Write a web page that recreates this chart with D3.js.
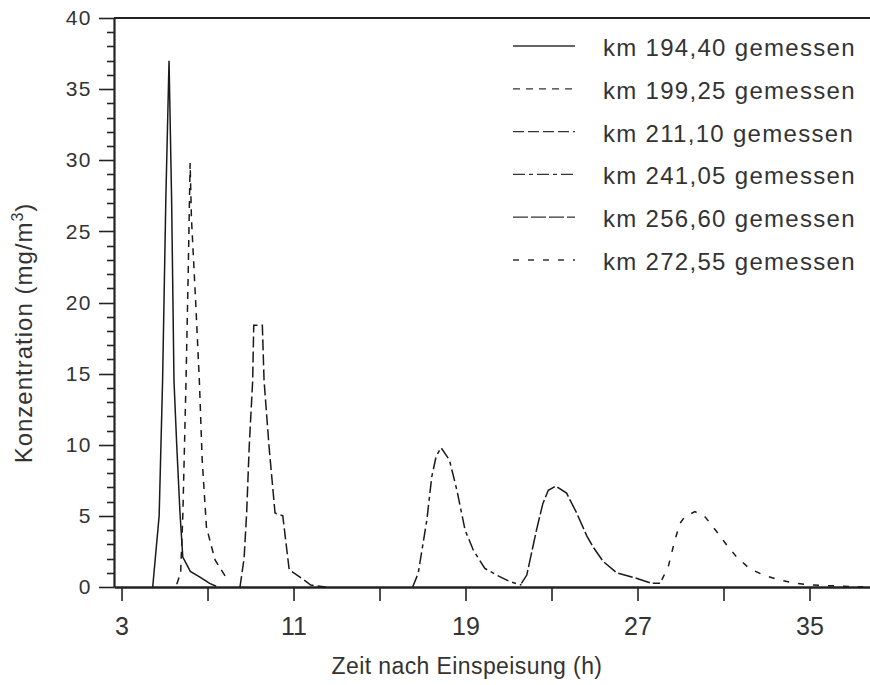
<!DOCTYPE html>
<html>
<head>
<meta charset="utf-8">
<script src="https://cdn.jsdelivr.net/npm/d3@7"></script>
<style>
  body { margin: 0; background: #fff; }
  svg { display: block; }
  text { font-family: "Liberation Sans", Arial, sans-serif; fill: #333; }
</style>
</head>
<body>
<div id="chart"></div>
<script>
// measured curves (time in h, concentration in mg/m3)
var labels = ["km 194,40 gemessen", "km 199,25 gemessen", "km 211,10 gemessen",
              "km 241,05 gemessen", "km 256,60 gemessen", "km 272,55 gemessen"];

var t1 = [4.45, 4.75, 4.91, 5.06, 5.21, 5.33, 5.44, 5.57, 5.72, 5.85, 6.2, 6.65, 7.1, 7.4];
var c1 = [0, 5, 14.5, 27.2, 37, 27.2, 14.5, 9.9, 5.2, 2.1, 1.1, 0.7, 0.25, 0.05];

var t2 = [5.57, 5.75, 5.85, 5.93, 6.0, 6.1, 6.19, 6.25, 6.45, 6.62, 6.75, 6.95, 7.35, 7.85];
var c2 = [0.2, 1, 5, 10, 14.5, 22, 29.8, 26, 20, 14.5, 9, 4.2, 1.9, 0.7];

var t3 = [8.51, 8.7, 8.82, 8.94, 9.1, 9.15, 9.55, 9.63, 9.86, 10.14, 10.5, 10.8, 11.3, 11.8, 12.5];
var c3 = [0, 2, 5.2, 9.9, 14.5, 18.4, 18.4, 14.5, 9.9, 5.2, 5, 1.2, 0.7, 0.14, 0];

var t4 = [16.54, 16.8, 17.2, 17.43, 17.63, 17.86, 18.25, 18.6, 18.98, 19.36, 19.9, 20.45, 21.07, 21.6];
var c4 = [0, 0.96, 4.7, 7.75, 9.16, 9.8, 8.93, 6.8, 4.0, 2.6, 1.3, 0.84, 0.37, 0.14];

var t5 = [21.6, 21.85, 22.3, 22.6, 22.85, 23.2, 23.7, 24.17, 24.64, 24.94, 25.4, 26.03, 26.8, 27.66, 28.05];
var c5 = [0.26, 0.84, 4.0, 5.88, 6.8, 7.1, 6.6, 5.2, 3.6, 2.8, 1.8, 1.0, 0.68, 0.26, 0.26];

var t6 = [28.13, 28.43, 28.74, 28.98, 29.2, 29.67, 30.14, 30.68, 31.15, 31.6, 32.2, 32.85, 33.6, 34.4, 35.1, 37.5];
var c6 = [0.5, 1.43, 3.3, 4.48, 4.94, 5.3, 4.94, 3.9, 2.95, 2.13, 1.31, 0.84, 0.49, 0.26, 0.14, 0];

var xTicks = [3, 7, 11, 15, 19, 23, 27, 31, 35];
var xLabels = [3, 11, 19, 27, 35];
var yTicks = [0, 5, 10, 15, 20, 25, 30, 35, 40];
var yMinorTicks = d3.range(0, 41);

var times = [t1, t2, t3, t4, t5, t6];
var concs = [c1, c2, c3, c4, c5, c6];
var dashes = ["none", "7,6", "11,4", "12,4,4,4", "15,3", "6,9"];

var width = 870, height = 685;

var svg = d3.select("#chart").append("svg")
    .attr("width", width)
    .attr("height", height);

var x = d3.scaleLinear().domain([2.65, 38]).range([114, 874]);
var y = d3.scaleLinear().domain([0, 40]).range([587, 18]);

// y tick marks drawn straight from the scale
svg.append("g").selectAll("line")
    .data(yMinorTicks)
  .enter().append("line")
    .attr("x1", function(d) { return d % 5 === 0 ? 99 : 107; })
    .attr("x2", 114)
    .attr("y1", function(d) { return Math.round(y(d)) + 0.5; })
    .attr("y2", function(d) { return Math.round(y(d)) + 0.5; })
    .style("stroke", "#222")
    .style("stroke-width", "1.6px");

// y axis line and labels
var yAxis = svg.append("g")
    .attr("transform", "translate(114,0)")
    .call(d3.axisLeft(y).tickValues(yTicks).tickSize(0).tickSizeOuter(0).tickPadding(22));
yAxis.select(".domain").attr("stroke", "#222").attr("stroke-width", 2.2);
yAxis.selectAll("text").style("font-size", "21px").attr("letter-spacing", "1.5").attr("fill", "#333");

// x axis, labelled every second tick
var xAxis = svg.append("g")
    .attr("transform", "translate(0,587)")
    .call(d3.axisBottom(x).tickValues(xTicks).tickSize(14).tickSizeOuter(0).tickPadding(16)
      .tickFormat(function(d) { return xLabels.indexOf(d) >= 0 ? d : ""; }));
xAxis.select(".domain").attr("stroke", "#222").attr("stroke-width", 2.4);
xAxis.selectAll("line").attr("stroke", "#222").attr("stroke-width", 1.6);
xAxis.selectAll("text").style("font-size", "25px").attr("fill", "#333");

// top frame
svg.append("line")
    .attr("x1", x(2.65)).attr("x2", x(38))
    .attr("y1", y(40)).attr("y2", y(40))
    .attr("stroke", "#222").attr("stroke-width", 2.2);

// curves
var line = d3.line()
    .x(function(d) { return x(d[0]); })
    .y(function(d) { return y(d[1]); });

times.forEach(function(t, i) {
  var pts = t.map(function(v, j) { return [v, concs[i][j]]; });
  svg.append("path")
      .datum(pts)
      .attr("d", line)
      .attr("fill", "none")
      .attr("stroke", "#1a1a1a")
      .attr("stroke-width", 1.5)
      .attr("stroke-dasharray", dashes[i]);
});

// legend
var legend = svg.append("g").attr("transform", "translate(513,46)");
labels.forEach(function(lab, i) {
  var row = legend.append("g").attr("transform", "translate(0," + (i * 42.8) + ")");
  row.append("line")
      .attr("x1", 0).attr("x2", 62)
      .attr("stroke", "#333")
      .attr("stroke-width", 1.3)
      .attr("stroke-dasharray", dashes[i]);
  row.append("text")
      .attr("x", 90).attr("y", 10)
      .style("font-size", "24px")
      .attr("letter-spacing", "1.3")
      .text(lab);
});

// axis titles
svg.append("text")
    .attr("x", 467).attr("y", 674)
    .attr("text-anchor", "middle")
    .style("font-size", "23px")
    .attr("letter-spacing", "0.4")
    .text("Zeit nach Einspeisung (h)");

var yt = svg.append("text")
    .attr("transform", "translate(32,333) rotate(-90)")
    .attr("text-anchor", "middle")
    .style("font-size", "24px")
    .attr("letter-spacing", "1");
yt.append("tspan").text("Konzentration (mg/m");
yt.append("tspan").attr("dy", "-9").style("font-size", "16px").text("3");
yt.append("tspan").attr("dy", "9").text(")");
</script>
</body>
</html>
